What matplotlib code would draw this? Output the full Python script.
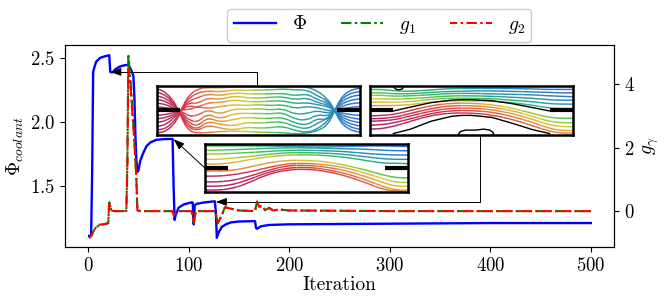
# -*- coding: utf-8 -*-
import numpy as np
import matplotlib
matplotlib.use('Agg')
import matplotlib.pyplot as plt
from matplotlib.colors import LinearSegmentedColormap
from matplotlib.patches import PathPatch
from matplotlib.path import Path

plt.rcParams['font.family'] = ['cmr10']
plt.rcParams['mathtext.fontset'] = 'cm'
plt.rcParams['axes.unicode_minus'] = False
plt.rcParams['axes.formatter.use_mathtext'] = True

#%% curves
phi_iter = [1, 3, 4, 5, 6, 8, 12, 16, 21, 22, 24, 27, 31, 35, 39, 42, 45, 46, 47, 48, 49, 50, 52, 55, 58, 62, 68, 75, 84, 85, 86, 87,
            90, 95, 103, 104, 105, 106, 108, 115, 126, 127, 128, 130, 133, 137, 142, 150, 166, 167, 168, 172, 180, 200, 300, 400, 500]
phi = [1.11, 1.11, 1.6, 2.39, 2.42, 2.47, 2.5, 2.51, 2.52, 2.39, 2.385, 2.41, 2.43, 2.44, 2.445, 2.42, 2.36, 2.2, 1.9, 1.7, 1.61, 1.62, 1.7, 1.76, 1.81, 1.84, 1.86, 1.865, 1.867, 1.5, 1.235, 1.27,
       1.33, 1.355, 1.372, 1.37, 1.2, 1.35, 1.36, 1.37, 1.38, 1.3, 1.095, 1.14, 1.18, 1.2, 1.215, 1.222, 1.225, 1.17, 1.165, 1.185, 1.195, 1.2, 1.205, 1.21, 1.21]

g_iter = [1, 3, 6, 8, 10, 12, 15, 20, 21, 23, 26, 38, 39, 40, 42, 44, 46, 48, 49, 52, 84, 85, 87, 90, 103, 105, 107, 110, 126, 127, 129, 133, 136,
          150, 166, 168, 170, 173, 176, 180, 184, 190, 200, 300, 400, 500]
g1 = [-0.85, -0.78, -0.6, -0.5, -0.47, -0.42, -0.42, -0.38, 0.28, 0.02, 0.0, 0.0, 1.5, 4.95, 4.2, 3.2, 2.2, 1.0, 0.02, 0.0, 0.0, -0.12, -0.08, 0.0, 0.0, -0.38, -0.02, 0.0, 0.0, -0.1, -0.38, -0.12, 0.12,
      0.02, 0.0, 0.3, 0.14, 0.16, 0.03, 0.1, 0.02, 0.05, 0.02, 0.0, 0.0, 0.0]
g2 = [-0.85, -0.78, -0.6, -0.5, -0.47, -0.42, -0.42, -0.38, 0.28, 0.02, 0.0, 0.0, 1.4, 4.5, 4.0, 3.1, 2.2, 1.0, 0.02, 0.0, 0.0, -0.12, -0.08, 0.0, 0.0, -0.38, -0.02, 0.0, 0.0, -0.1, -0.38, -0.12, 0.12,
      0.02, 0.0, 0.3, 0.14, 0.16, 0.03, 0.1, 0.02, 0.05, 0.02, 0.0, 0.0, 0.0]

xticks = [0, 100, 200, 300, 400, 500]
phi_ticks = [1.5, 2.0, 2.5]
g_ticks = [0, 2, 4]

#%% streamlines of the three little channels (percent of the channel height)
st_a = [-.02, 0, .05, .1, .13, .16, .2, .25, .31, .38, .44, .5, .56, .62, .68, .74, .79, .84, .87, .9, .94, 1, 1.02]
lines_a = [
    [96, 95, 86, 58, 26, 8, 4, 5, 7, 8, 7, 6, 5, 5, 2, 4, 8, 20, 44, 72, 90, 96, 96],
    [89, 88, 80, 56, 30, 14, 9, 20, 14, 10, 16, 14, 15, 18, 9, 5, 12, 28, 46, 68, 84, 89, 89],
    [81, 80, 74, 54, 34, 18, 12, 28, 22, 18, 26, 24, 26, 27, 17, 12, 24, 34, 48, 64, 77, 82, 82],
    [74, 73, 68, 52, 38, 24, 18, 36, 26, 32, 36, 34, 34, 36, 24, 20, 34, 30, 50, 60, 70, 74, 74],
    [66, 65, 62, 50, 42, 30, 26, 44, 32, 44, 44, 44, 43, 46, 32, 30, 42, 38, 50, 56, 63, 66, 66],
    [58, 57, 56, 50, 46, 38, 40, 52, 42, 54, 52, 54, 51, 54, 42, 44, 50, 44, 50, 53, 56, 58, 58],
    [40, 40, 42, 48, 52, 52, 58, 54, 58, 62, 60, 62, 60, 62, 54, 58, 56, 50, 50, 46, 42, 40, 40],
    [32, 33, 36, 46, 54, 60, 56, 66, 66, 72, 68, 68, 69, 70, 64, 66, 62, 58, 51, 43, 36, 32, 32],
    [24, 25, 30, 44, 56, 66, 64, 76, 72, 80, 76, 75, 77, 78, 72, 76, 66, 62, 52, 40, 30, 25, 25],
    [16, 17, 22, 42, 58, 70, 76, 84, 80, 86, 84, 84, 84, 85, 80, 84, 72, 66, 53, 36, 24, 18, 18],
    [9, 10, 14, 36, 60, 76, 86, 90, 88, 92, 91, 92, 92, 94, 92, 92, 80, 70, 54, 32, 18, 11, 11],
    [3, 4, 8, 30, 62, 82, 94, 97, 96, 98, 98, 98, 97, 98, 99, 98, 90, 74, 55, 28, 12, 5, 5],
]
col_a = [(0.0, 1.0)] * 12

st_b = [-.02, 0, .06, .12, .2, .3, .4, .5, .6, .7, .8, .88, .94, 1, 1.02]
lines_b = [
    [93, 93, 93, 90, 89, 92, 95, 95, 95, 95, 94, 93, 93, 93, 93],
    [86, 86, 86, 84, 84, 87, 89, 90, 90, 89, 88, 87, 86, 86, 86],
    [81, 81, 81, 79, 80, 82, 85, 85, 84, 83, 82, 80, 79, 78, 78],
    [74, 74, 74, 73, 74, 77, 80, 80, 79, 77, 75, 72, 71, 71, 71],
    [67, 67, 67, 67, 68, 73, 75, 75, 74, 71, 68, 64, 63, 63, 63],
    [60, 60, 60, 60, 62, 67, 70, 70, 69, 66, 61, 55, 54, 54, 54],
    [39, 39, 40, 42, 50, 60, 65, 65, 62, 55, 44, 36, 34, 34, 34],
    [33, 33, 34, 36, 44, 54, 60, 60, 57, 50, 38, 28, 25, 25, 25],
    [28, 28, 29, 31, 39, 49, 55, 55, 52, 44, 32, 21, 17, 17, 17],
    [20, 20, 21, 25, 33, 44, 50, 50, 47, 38, 26, 14, 9, 9, 9],
    [12, 12, 13, 18, 28, 40, 45, 45, 41, 32, 19, 8, 4, 4, 4],
]
col_b = [(.6, 1.0), (.55, .98), (.48, .95), (.42, .9), (.36, .82), (.28, .75),
         (.02, .6), (.0, .52), (.0, .45), (.0, .35), (.0, .28)]

lines_c = [
    [96, 96, 96, 96, 96, 96, 95, 94, 94, 95, 96, 96, 95, 95, 95],
    [87, 87, 87, 88, 89, 91, 92, 92, 91, 90, 89, 87, 86, 86, 86],
    [79, 79, 79, 80, 82, 84, 87, 87, 86, 84, 80, 78, 77, 77, 77],
    [68, 68, 68, 70, 73, 78, 82, 82, 81, 78, 73, 69, 68, 68, 68],
    [58, 58, 58, 60, 66, 73, 77, 78, 76, 72, 65, 60, 60, 59, 59],
    [44, 44, 44, 44, 50, 60, 66, 66, 63, 55, 45, 35, 30, 29, 29],
    [33, 33, 33, 35, 40, 50, 59, 60, 57, 50, 38, 27, 20, 20, 20],
    [21, 21, 21, 23, 30, 44, 55, 56, 52, 44, 31, 19, 12, 12, 12],
    [12, 12, 12, 14, 23, 40, 50, 52, 47, 38, 24, 11, 4, 4, 4],
    [4, 4, 4, 6, 16, 36, 46, 48, 43, 33, 18, 5, 2, 2, 2],
]
col_c = [(.58, 1.0), (.52, .98), (.46, .95), (.38, .88), (.3, .8),
         (.2, .6), (.02, .48), (.0, .4), (.0, .32), (.0, .26)]

# black outlines of the second channel
out_x = [.115, .2, .3, .4, .45, .5, .6, .7, .8, .885]
out_top = [49, 57, 66, 71, 72, 72, 70, 64, 56, 49]
out_low = [3, 12, 28, 38, 40, 40, 36, 24, 11, 3]
blob_top_x = [.115, .125, .14, .16, .165]
blob_top_y = [99, 94, 92, 94, 99]
blob_low_x = [.435, .445, .47, .52, .56, .59, .605, .61]
blob_low_y = [1, 7, 10, 10, 12, 10, 6, 1]

rainbow = LinearSegmentedColormap.from_list('rb', [(0, '#a8206e'), (.14, '#d83848'), (.28, '#e09040'), (.42, '#dccb30'),
                                                   (.6, '#38c05c'), (.78, '#2a9aa8'), (1, '#2f6fd8')])


def smooth(a, st, row, c0, c1):
    # quadratic pieces between the midpoints, so the read points give a round line
    p = np.column_stack([st, row])
    m = (p[:-1] + p[1:]) / 2
    for i in range(1, len(p) - 1):
        c = c0 + (c1 - c0) * np.clip(p[i, 0], 0, 1)
        path = Path([m[i - 1], p[i], m[i]], [Path.MOVETO, Path.CURVE3, Path.CURVE3])
        a.add_patch(PathPatch(path, fc='none', ec=rainbow(c), lw=1.05, capstyle='butt'))


def channel(rect, st, lines, cols):
    x0, y0, w, h = rect
    a = fig.add_axes([x0 / 665, 1 - (y0 + h) / 298, w / 665, h / 298])
    st = np.array(st)
    for row, (c0, c1) in zip(lines, cols):
        smooth(a, st, row, c0, c1)
    a.plot([0, .115], [50, 50], color='k', lw=3, solid_capstyle='butt')
    a.plot([.885, 1], [50, 50], color='k', lw=3, solid_capstyle='butt')
    a.set_xlim(0, 1)
    a.set_ylim(0, 100)
    a.set_xticks([])
    a.set_yticks([])
    for s in a.spines.values():
        s.set_linewidth(1.8)
    return a


#%% main plot
fig = plt.figure(figsize=(6.65, 2.98), dpi=100)
ax = fig.add_axes([65 / 665, 1 - 247 / 298, 549 / 665, 202 / 298])
ax2 = ax.twinx()

l0, = ax.plot(phi_iter, phi, color='blue', lw=1.7)
l1, = ax2.plot(g_iter, g1, color='green', lw=1.5, linestyle=(0, (5, 1.6, 1.2, 1.6)))
l2, = ax2.plot(g_iter, g2, color='red', lw=1.5, linestyle=(1.5, (5, 1.6, 1.2, 1.6)))

ax.set_xlim(-23, 523)
ax.set_ylim(1.023, 2.60)
ax2.set_ylim(-1.13, 5.23)
ax.set_xticks(xticks)
ax.set_yticks(phi_ticks)
ax2.set_yticks(g_ticks)
ax.tick_params(labelsize=13.5)
ax2.tick_params(labelsize=13.5)
ax.set_xlabel('Iteration', fontsize=14, labelpad=1)
ax.set_ylabel(r'$\Phi_{coolant}$', fontsize=14, labelpad=3)
ax2.set_ylabel(r'$g_{\gamma}$', fontsize=14, labelpad=5)

fig.legend([l0, l1, l2], [r'$\Phi$', r'$g_1$', r'$g_2$'], loc='upper left', bbox_to_anchor=(227 / 665, 1 - 9 / 298),
           borderaxespad=0, ncol=3, fontsize=14, handlelength=2.16, handletextpad=0.82, columnspacing=1.75,
           borderpad=0.34, framealpha=1)

#%% arrows from the channels to the curve
arrow = dict(arrowstyle='-|>,head_length=0.55,head_width=0.2', mutation_scale=12, color='k', lw=0.7, shrinkA=0, shrinkB=0)
ax.annotate('', xy=(22, 2.39), xytext=(257 / 665, 1 - 86 / 298), xycoords='data', textcoords='figure fraction',
            arrowprops=dict(connectionstyle='angle,angleA=90,angleB=0,rad=0', **arrow))
ax.annotate('', xy=(85, 1.865), xytext=(206 / 665, 1 - 169 / 298), xycoords='data', textcoords='figure fraction',
            arrowprops=arrow)
ax.annotate('', xy=(127, 1.375), xytext=(480 / 665, 1 - 135 / 298), xycoords='data', textcoords='figure fraction',
            arrowprops=dict(connectionstyle='angle,angleA=90,angleB=0,rad=0', **arrow))

#%% insets
channel((157, 86, 203, 49), st_a, lines_a, col_a)
ib = channel((370, 86, 203, 49), st_b, lines_b, col_b)
ib.plot(out_x, out_top, color='k', lw=1.0)
ib.plot(out_x, out_low, color='k', lw=1.0)
ib.plot(blob_top_x, blob_top_y, color='k', lw=1.0)
ib.plot(blob_low_x, blob_low_y, color='k', lw=1.0)
channel((205, 144, 203, 48), st_b, lines_c, col_c)

fig.savefig('out.png', dpi=100)
